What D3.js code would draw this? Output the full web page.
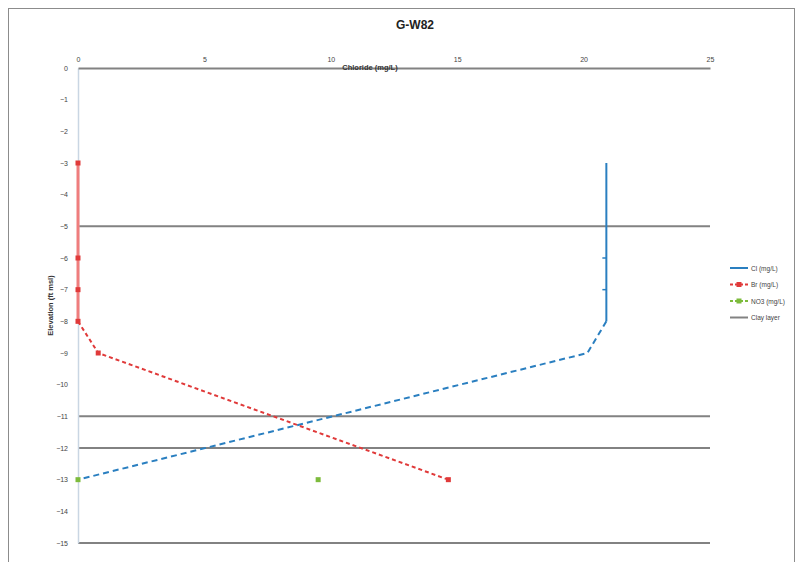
<!DOCTYPE html>
<html>
<head>
<meta charset="utf-8">
<script src="https://cdn.jsdelivr.net/npm/d3@7"></script>
<style>
  body { margin: 0; background: #fff; }
  svg { display: block; font-family: "Liberation Sans", Arial, sans-serif; }
</style>
</head>
<body>
<svg id="chart" width="801" height="562"></svg>
<script>
// Well G-W82 profile: concentration (top axis) versus depth (left axis)
const title = "G-W82";
const xTitle = "Chloride (mg/L)";
const yTitle = "Elevation (ft msl)";
const xTicks = [0, 5, 10, 15, 20, 25];
const yTicks = d3.range(0, -16, -1);

const seriesNames = ["Cl (mg/L)", "Br (mg/L)", "NO3 (mg/L)", "Clay layer"];

// Measured interval (solid) and projected interval (dashed)
const clDepth = [-3, -6, -7, -8];
const clValue = [20.9, 20.9, 20.9, 20.9];
const clProjDepth = [-8, -9, -13];
const clProjValue = [20.9, 20.15, 0];

const brDepth = [-3, -6, -7, -8];
const brValue = [0, 0, 0, 0];
const brProjDepth = [-8, -9, -13];
const brProjValue = [0, 0.8, 14.65];

const no3Depth = [-13, -13];
const no3Value = [0, 9.5];

// Horizontal layer boundaries
const layerDepths = [-5, -11, -12, -15];

const colors = { cl: "#2a7fc0", br: "#e03a3a", no3: "#7dbb3c", layer: "#828282" };

const svg = d3.select("#chart");
const plot = { left: 78, right: 710, top: 68, bottom: 543 };

// chart frame (runs past the lower edge of the page)
svg.append("rect").attr("x", 8.5).attr("y", 8.5).attr("width", 786).attr("height", 560)
  .attr("fill", "#fff").attr("stroke", "#8c8c8c").attr("stroke-width", 1);

const x = d3.scaleLinear().domain([0, 25]).range([plot.left, plot.right]);
const y = d3.scaleLinear().domain([0, -15]).range([plot.top, plot.bottom]);

// title
svg.append("text").attr("x", 415).attr("y", 29).attr("text-anchor", "middle")
  .attr("font-size", 12).attr("font-weight", "bold").attr("fill", "#222").text(title);

// layer boundary lines
svg.append("g").selectAll("line").data(layerDepths).join("line")
  .attr("x1", x(0)).attr("x2", x(25))
  .attr("y1", d => y(d)).attr("y2", d => y(d))
  .attr("stroke", colors.layer).attr("stroke-width", 2);

// left axis
const yAxis = d3.axisLeft(y).tickValues(yTicks).tickSize(0).tickPadding(10)
  .tickFormat(d3.format("d"));
const gy = svg.append("g").attr("transform", `translate(${plot.left},0)`).call(yAxis);
gy.select(".domain").attr("stroke", "#c9d6e3").attr("stroke-width", 1.5);
gy.selectAll("text").attr("font-size", 7).attr("fill", "#444");

// top axis
const xAxis = d3.axisTop(x).tickValues(xTicks).tickSize(0).tickPadding(6);
const gx = svg.append("g").attr("transform", `translate(0,${plot.top})`).call(xAxis);
gx.select(".domain").attr("stroke", colors.layer).attr("stroke-width", 2);
gx.selectAll("text").attr("font-size", 7).attr("fill", "#444");

// axis titles
svg.append("text").attr("x", 370).attr("y", 70).attr("text-anchor", "middle")
  .attr("font-size", 7.5).attr("font-weight", "bold").attr("fill", "#333").text(xTitle);
svg.append("text").attr("transform", `translate(53,${(plot.top + plot.bottom) / 2}) rotate(-90)`)
  .attr("text-anchor", "middle").attr("font-size", 7.5).attr("font-weight", "bold")
  .attr("fill", "#333").text(yTitle);

const line = d3.line().x(d => x(d[0])).y(d => y(d[1]));
const zipPts = (vals, deps) => vals.map((v, i) => [v, deps[i]]);

// Cl series
svg.append("path").datum(zipPts(clValue, clDepth)).attr("d", line)
  .attr("fill", "none").attr("stroke", colors.cl).attr("stroke-width", 2);
svg.append("path").datum(zipPts(clProjValue, clProjDepth)).attr("d", line)
  .attr("fill", "none").attr("stroke", colors.cl).attr("stroke-width", 2)
  .attr("stroke-dasharray", "6,4");
svg.append("g").selectAll("line").data(zipPts(clValue, clDepth).slice(1, 3)).join("line")
  .attr("x1", d => x(d[0]) - 4).attr("x2", d => x(d[0]))
  .attr("y1", d => y(d[1])).attr("y2", d => y(d[1]))
  .attr("stroke", colors.cl).attr("stroke-width", 1.5);

// Br series
svg.append("path").datum(zipPts(brValue, brDepth)).attr("d", line)
  .attr("fill", "none").attr("stroke", "#ef7d7d").attr("stroke-width", 3);
svg.append("path").datum(zipPts(brProjValue, brProjDepth)).attr("d", line)
  .attr("fill", "none").attr("stroke", colors.br).attr("stroke-width", 2)
  .attr("stroke-dasharray", "4,3");
const brPts = zipPts(brValue, brDepth).concat(zipPts(brProjValue, brProjDepth).slice(1));
svg.append("g").selectAll("rect").data(brPts).join("rect")
  .attr("x", d => x(d[0]) - 2.5).attr("y", d => y(d[1]) - 2.5)
  .attr("width", 5).attr("height", 5).attr("fill", colors.br);

// NO3 points
svg.append("g").selectAll("rect").data(zipPts(no3Value, no3Depth)).join("rect")
  .attr("x", d => x(d[0]) - 2.5).attr("y", d => y(d[1]) - 2.5)
  .attr("width", 5).attr("height", 5).attr("fill", colors.no3);

// legend
const lg = svg.append("g").attr("transform", "translate(730,268)");
const items = [
  { name: seriesNames[0], color: colors.cl, marker: false },
  { name: seriesNames[1], color: colors.br, marker: true },
  { name: seriesNames[2], color: colors.no3, marker: true },
  { name: seriesNames[3], color: colors.layer, marker: false }
];
items.forEach((it, i) => {
  const g = lg.append("g").attr("transform", `translate(0,${i * 16.5})`);
  g.append("line").attr("x1", 0).attr("x2", 18).attr("y1", 0).attr("y2", 0)
    .attr("stroke", it.color).attr("stroke-width", 2)
    .attr("stroke-dasharray", i === 1 || i === 2 ? "3,2" : null);
  if (it.marker) {
    g.append("rect").attr("x", 6.5).attr("y", -2.5).attr("width", 5).attr("height", 5)
      .attr("fill", it.color);
  }
  g.append("text").attr("x", 21).attr("y", 2.5).attr("font-size", 6.5)
    .attr("fill", "#444").text(it.name);
});
</script>
</body>
</html>
